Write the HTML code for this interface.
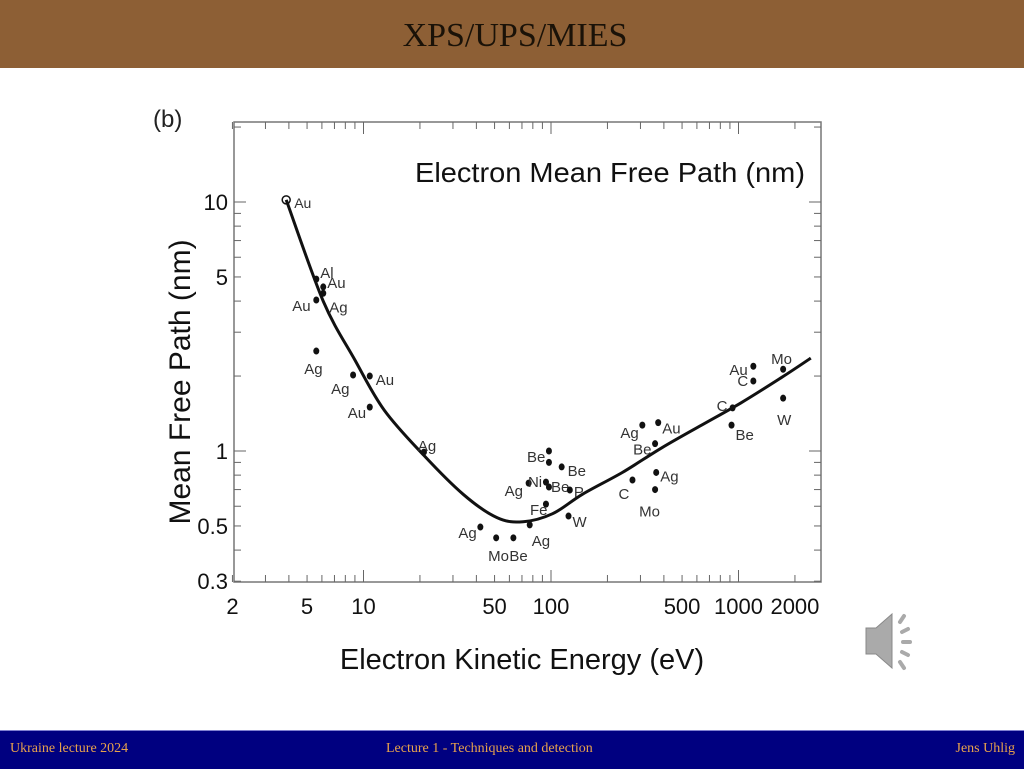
<!DOCTYPE html>
<html><head><meta charset="utf-8"><style>
body{margin:0;width:1024px;height:768px;overflow:hidden;background:#fff;position:relative;font-family:"Liberation Sans",sans-serif}
#hdr{position:absolute;left:0;top:0;width:1024px;height:68px;background:#8d5f35}
#hdr div{position:absolute;left:0;width:1030px;top:17px;text-align:center;font-family:"Liberation Serif",serif;font-size:34px;color:#1a1208}
#ftr{position:absolute;left:0;top:730px;width:1024px;height:38px;background:#000080;border-top:1px solid #8080d0}
#ftr span{position:absolute;top:10px;font-family:"Liberation Serif",serif;font-size:14px;color:#e8a24c}
</style></head><body>
<div id="hdr"><div>XPS/UPS/MIES</div></div>
<svg id="chart" width="1024" height="730" style="position:absolute;left:0;top:0">
<text x="153" y="127" font-size="24" fill="#222">(b)</text>
<text x="415" y="182" font-size="28" fill="#111" textLength="390" lengthAdjust="spacingAndGlyphs">Electron Mean Free Path (nm)</text>
<text transform="translate(190,382) rotate(-90)" text-anchor="middle" font-size="30" fill="#111">Mean Free Path (nm)</text>
<text x="522" y="669" text-anchor="middle" font-size="29" fill="#111">Electron Kinetic Energy (eV)</text>
<g id="g"></g>
<g transform="translate(866,612)">
<path d="M0 16 H10 L26 2 V56 L10 42 H0 Z" fill="#aaa" stroke="#888"/>
<path d="M34 10 l4 -6 M36 20 l6 -3 M37 30 h7 M36 40 l6 3 M34 50 l4 6" stroke="#aaa" stroke-width="4" stroke-linecap="round"/>
</g>
</svg>
<div id="ftr">
<span style="left:10px">Ukraine lecture 2024</span>
<span style="left:386px">Lecture 1 - Techniques and detection</span>
<span style="right:9px">Jens Uhlig</span>
</div>
<script>
const xTicks=[2,5,10,50,100,500,1000,2000];
const yTicks=[0.3,0.5,1,5,10];
const ptEnergy=[5.6,6.1,5.6,6.1,5.6,8.8,10.8,10.8,21,42,51,63,77,76,94,97.5,97.5,114,97.5,126,94,124,272,307,373,359,364,359,918,930,1200,1200,1730,1730];
const ptMfp=[4.9,4.56,4.04,4.3,2.52,2.02,2.0,1.5,0.99,0.495,0.448,0.448,0.505,0.743,0.75,1.0,0.9,0.863,0.717,0.697,0.612,0.548,0.765,1.27,1.3,1.07,0.82,0.7,1.27,1.49,2.19,1.91,2.13,1.63];
const ptLabel=["Al","Au","Au","Ag","Ag","Ag","Au","Au","Ag","Ag","Mo","Be","Ag","Ag","Ni","Be","","Be","Be","P","Fe","W","C","Ag","Au","Be","Ag","Mo","Be","C","Au","C","Mo","W"];
const lblDx=[4,4,-24,6,-12,-22,6,-22,-6,-22,-8,-4,2,-24,-18,-22,0,6,2,4,-16,4,-14,-22,4,-22,4,-16,4,-16,-24,-16,-12,-6];
const lblDy=[-6,-4,6,14,18,14,4,6,-6,6,18,18,16,8,0,6,0,4,0,2,6,6,14,8,6,6,4,22,10,-2,4,0,-10,22];
const curveE=[3.87,6.1,9,12.9,21,34,51.5,71,102,147,240,390,635,1030,1690,2430];
const curveV=[10.2,4.0,2.32,1.46,0.96,0.67,0.54,0.52,0.56,0.67,0.82,1.03,1.27,1.56,1.97,2.36];
const X=e=>176+187.5*Math.log10(e);
const Y=v=>451-249*Math.log10(v);
const L=234,R=821,T=122,B=582;
const g=document.getElementById('g');
const NS='http://www.w3.org/2000/svg';
function mk(t,a){const e=document.createElementNS(NS,t);for(const k in a)e.setAttribute(k,a[k]);g.appendChild(e);return e;}
let e=mk('rect',{x:L,y:T,width:R-L,height:B-T,fill:'none',stroke:'#777','stroke-width':1.5});


for(let d=1;d<=1000;d*=10)for(let m=1;m<=9;m++){const v=d*m;if(v<2||v>2300)continue;const x=X(v);const len=(m===1)?12:7;
e=mk('line',{x1:x,x2:x,y1:B,y2:B-len,stroke:'#666'});
e=mk('line',{x1:x,x2:x,y1:T,y2:T+len,stroke:'#666'});}
for(let d=0.1;d<=10;d*=10)for(let m=1;m<=9;m++){const v=d*m;if(v<0.299||v>21)continue;const y=Y(v);const len=(m===1)?12:7;
e=mk('line',{x1:L,x2:L+len,y1:y,y2:y,stroke:'#666'});
e=mk('line',{x1:R,x2:R-len,y1:y,y2:y,stroke:'#666'});}
xTicks.forEach(v=>{e=mk('text',{x:X(v),y:614,'text-anchor':'middle','font-size':22,fill:'#111'});e.textContent=v;});
yTicks.forEach(v=>{e=mk('text',{x:228,y:Y(v)+8,'text-anchor':'end','font-size':22,fill:'#111'});e.textContent=v;});
const P=curveE.map((c,i)=>[X(c),Y(curveV[i])]);
let d='M'+P[0][0].toFixed(1)+' '+P[0][1].toFixed(1);
for(let i=0;i<P.length-1;i++){const p0=P[i-1]||P[i],p1=P[i],p2=P[i+1],p3=P[i+2]||P[i+1];
const c1=[p1[0]+(p2[0]-p0[0])/6,p1[1]+(p2[1]-p0[1])/6],c2=[p2[0]-(p3[0]-p1[0])/6,p2[1]-(p3[1]-p1[1])/6];
d+=` C${c1[0].toFixed(1)} ${c1[1].toFixed(1)} ${c2[0].toFixed(1)} ${c2[1].toFixed(1)} ${p2[0].toFixed(1)} ${p2[1].toFixed(1)}`;}
e=mk('path',{d:d,fill:'none',stroke:'#111','stroke-width':3,'stroke-linejoin':'round'});


e=mk('circle',{cx:X(curveE[0]),cy:Y(curveV[0]),r:4,fill:'none',stroke:'#111','stroke-width':1.5});


e=mk('text',{x:X(curveE[0])+8,y:Y(curveV[0])+8,'font-size':14,fill:'#333'});e.textContent='Au';


ptEnergy.forEach((en,i)=>{const x=X(en),y=Y(ptMfp[i]);
e=mk('ellipse',{cx:x,cy:y,rx:3,ry:3.5,fill:'#111'});


if(ptLabel[i]){e=mk('text',{x:x+lblDx[i],y:y+lblDy[i]+5,'font-size':15,fill:'#333'});e.textContent=ptLabel[i];

}});
</script>
</body></html>
